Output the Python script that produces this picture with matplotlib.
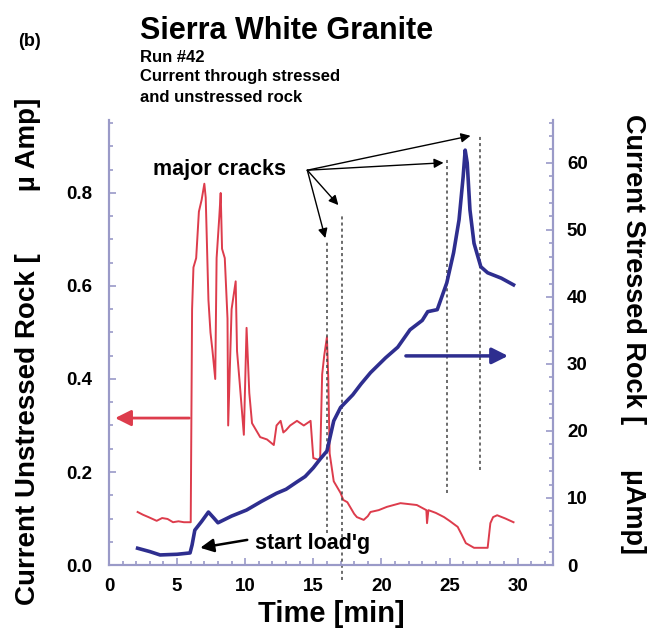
#Load packages
import numpy as np
import matplotlib
matplotlib.use('Agg')
import matplotlib.pyplot as plt
from matplotlib.ticker import MultipleLocator

plt.rcParams['font.family'] = ['Liberation Sans', 'DejaVu Sans']
plt.rcParams['font.weight'] = 'bold'

#current through unstressed rock (left axis, uAmp)
red_t = [2.1, 2.5, 2.9, 3.2, 3.5, 3.9, 4.3, 4.7, 5.1, 5.5, 6.0, 6.1, 6.2, 6.4, 6.6, 6.8, 7.0, 7.1,
         7.3, 7.45, 7.6, 7.8, 7.9, 8.1, 8.2, 8.3, 8.5, 8.7, 8.75, 9.0, 9.3, 9.4, 9.6,
         9.9, 10.1, 10.3, 10.5, 10.8, 11.1, 11.6, 12.1, 12.3, 12.6, 12.8, 13.0, 13.3, 13.8,
         14.3, 14.8, 15.0, 15.5, 15.65, 15.8, 16.0, 16.1, 16.2, 16.5, 16.8, 17.0, 17.2,
         17.5, 17.7, 18.0, 18.2, 18.7, 19.0, 19.2, 19.8, 20.4, 21.4, 22.6, 23.3, 23.35, 23.45,
         24.0, 24.6, 25.0, 25.6, 25.9, 26.2, 26.8, 27.8, 28.0, 28.2, 28.5, 29.1, 29.7]
red_v = [0.114, 0.108, 0.103, 0.099, 0.095, 0.101, 0.099, 0.092, 0.094, 0.092, 0.092, 0.55, 0.64, 0.66, 0.76, 0.785, 0.82, 0.79,
         0.57, 0.50, 0.46, 0.40, 0.66, 0.75, 0.80, 0.68, 0.66, 0.53, 0.30, 0.55, 0.61, 0.46, 0.39,
         0.28, 0.51, 0.37, 0.305, 0.29, 0.275, 0.27, 0.258, 0.30, 0.31, 0.285, 0.29, 0.30, 0.31,
         0.30, 0.31, 0.23, 0.225, 0.41, 0.45, 0.49, 0.40, 0.24, 0.18, 0.165, 0.155, 0.14,
         0.135, 0.125, 0.11, 0.103, 0.097, 0.105, 0.114, 0.118, 0.125, 0.133, 0.129, 0.118, 0.09, 0.118,
         0.112, 0.103, 0.095, 0.082, 0.065, 0.047, 0.037, 0.037, 0.09, 0.103, 0.107, 0.10, 0.092]

#current through stressed rock (right axis, uAmp)
blue_t = [2.1, 3.0, 3.75, 5.0, 5.95, 6.1, 6.3, 6.8, 7.3, 7.7, 8.0, 9.0, 10.1, 11.2,
          12.3, 13.0, 13.8, 14.4, 15.0, 15.5, 16.0, 16.5, 17.0, 17.9, 18.5, 19.2,
          20.3, 21.2, 22.1, 23.0, 23.4, 24.1, 24.8, 25.3, 25.7, 26.0, 26.15, 26.3,
          26.5, 26.8, 27.3, 27.8, 28.8, 29.7]
blue_v = [2.5, 2.0, 1.5, 1.6, 1.8, 3.0, 5.2, 6.5, 7.9, 7.0, 6.3, 7.3, 8.2, 9.5,
          10.7, 11.3, 12.4, 13.2, 14.5, 15.8, 17.0, 21.5, 23.5, 25.4, 27.0, 28.7,
          30.9, 32.5, 35.1, 36.5, 37.8, 38.1, 42.1, 46.6, 51.5, 57.9, 61.9, 60.0,
          53.0, 48.0, 44.5, 43.6, 42.8, 41.8]

#major crack times and dotted line extents (left axis units)
crack_t = [16.0, 17.1, 24.85, 27.25]
crack_top = [0.699, 0.753, 0.875, 0.925]
crack_bot = [0.069, -0.032, 0.155, 0.204]
arrow_tip_t = [15.88, 16.84, 24.56, 26.54]
arrow_tip_v = [0.703, 0.774, 0.865, 0.923]

axcol = '#9a9ac8'
redcol = '#dd3c4c'
bluecol = '#2e2e8f'

fig = plt.figure(figsize=(6.5, 6.43), dpi=100)
ax = fig.add_axes([0.1677, 0.1213, 0.6831, 0.6921])
ax2 = ax.twinx()

ax.plot(red_t, red_v, color=redcol, lw=1.4)
ax2.plot(blue_t, blue_v, color=bluecol, lw=2.6)

ax.set_xlim(0, 32.6)
ax.set_ylim(0, 0.957)
ax2.set_ylim(0, 66.4)

ax.xaxis.set_major_locator(MultipleLocator(5))
ax.xaxis.set_minor_locator(MultipleLocator(1))
ax.yaxis.set_major_locator(MultipleLocator(0.2))
ax.yaxis.set_minor_locator(MultipleLocator(0.05))
ax2.yaxis.set_major_locator(MultipleLocator(10))
ax2.yaxis.set_minor_locator(MultipleLocator(2))
ax.yaxis.set_major_formatter(plt.FormatStrFormatter('%.1f'))

for a in (ax, ax2):
    for s in a.spines.values():
        s.set_color(axcol)
        s.set_linewidth(1.5)
    a.spines['top'].set_visible(False)
    a.tick_params(which='both', direction='in', color=axcol, width=1.2, labelsize=13.5)
    a.tick_params(which='major', length=5)
    a.tick_params(which='minor', length=3)
ax.tick_params(axis='y', pad=12)
ax.tick_params(axis='x', pad=9)
ax2.tick_params(axis='y', pad=10)

ax.set_xlabel('Time [min]', fontsize=21, fontweight='bold', labelpad=4)
ax.set_ylabel('Current Unstressed Rock [        \u00b5 Amp]', fontsize=20, fontweight='bold')
ax.yaxis.set_label_coords(-0.154, 0.48)
ax2.set_ylabel('Current Stressed Rock [      \u00b5Amp]', fontsize=19.5, fontweight='bold',
               rotation=270)
ax2.yaxis.set_label_coords(1.21, 0.52)

#dotted lines at the major cracks
for t, y0, y1 in zip(crack_t, crack_bot, crack_top):
    ax.plot([t, t], [y0, y1], color='#444444', ls=(0, (2, 2)), lw=1.1, clip_on=False)

ax.text(8.1, 0.85, 'major cracks', fontsize=15.5, fontweight='bold', ha='center', va='center')
for t, v in zip(arrow_tip_t, arrow_tip_v):
    ax.annotate('', xy=(t, v), xytext=(14.56, 0.849),
                arrowprops=dict(arrowstyle='-|>', color='black', lw=1.0, mutation_scale=14,
                                shrinkA=0, shrinkB=0))

#axis arrows
ax.annotate('', xy=(0.45, 0.316), xytext=(5.9, 0.316),
            arrowprops=dict(arrowstyle='-|>', color=redcol, lw=2, mutation_scale=24,
                            shrinkA=0, shrinkB=0))
ax2.annotate('', xy=(29.3, 31.2), xytext=(21.8, 31.2),
             arrowprops=dict(arrowstyle='-|>', color=bluecol, lw=2.5, mutation_scale=24,
                             shrinkA=0, shrinkB=0))

ax.text(10.7, 0.047, "start load'g", fontsize=15.5, fontweight='bold', ha='left', va='center')
ax.annotate('', xy=(6.7, 0.037), xytext=(10.15, 0.054),
            arrowprops=dict(arrowstyle='-|>', color='black', lw=1.8, mutation_scale=20,
                            shrinkA=0, shrinkB=0))

#titles
fig.text(18/650, 1 - 42/643, '(b)', fontsize=13, fontweight='bold', va='center')
fig.text(140/650, 1 - 31/643, 'Sierra White Granite', fontsize=22, fontweight='bold', va='center')
fig.text(140/650, 1 - 57/643, 'Run #42', fontsize=12, fontweight='bold', va='center')
fig.text(140/650, 1 - 77/643, 'Current through stressed', fontsize=12, fontweight='bold', va='center')
fig.text(140/650, 1 - 98/643, 'and unstressed rock', fontsize=12, fontweight='bold', va='center')

fig.savefig('out.png', dpi=100)
